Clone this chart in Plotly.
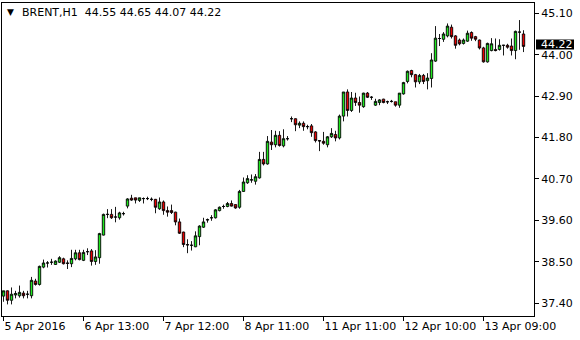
import plotly.graph_objects as go

symbol = "BRENT,H1"

opens = [37.59, 37.73, 37.48, 37.62, 37.60, 37.67, 37.64, 37.60, 37.99, 37.90,
         38.36, 38.47, 38.49, 38.43, 38.49, 38.58, 38.47, 38.45, 38.58, 38.74,
         38.54, 38.77, 38.79, 38.51, 38.61, 39.21, 39.76, 39.76, 39.69, 39.67,
         39.78, 39.98, 40.19, 40.20, 40.13, 40.18, 40.18, 40.16, 40.16, 39.91,
         40.09, 39.86, 39.86, 39.82, 39.56, 39.29, 38.96, 38.94, 38.90, 39.17,
         39.42, 39.61, 39.67, 39.67, 39.86, 39.97, 39.97, 40.05, 40.02, 39.95,
         40.37, 40.60, 40.67, 40.64, 40.73, 41.22, 41.10, 41.68, 41.61, 41.86,
         41.58, 41.77, 42.30, 42.30, 42.13, 42.18, 42.09, 42.11, 41.95, 41.72,
         41.70, 41.61, 41.82, 41.88, 41.79, 42.37, 43.01, 42.52, 42.85, 42.73,
         42.62, 42.98, 42.87, 42.66, 42.73, 42.82, 42.75, 42.76, 42.75, 42.66,
         42.96, 43.29, 43.58, 43.47, 43.28, 43.45, 43.31, 43.37, 43.83, 44.43,
         44.41, 44.50, 44.73, 44.50, 44.39, 44.30, 44.36, 44.59, 44.48, 44.39,
         44.18, 43.81, 44.11, 44.14, 44.14, 44.25, 44.25, 44.23, 44.11, 44.60,
         44.55]
highs = [37.73, 37.74, 37.82, 37.73, 37.87, 37.73, 37.73, 38.10, 38.05, 38.40,
         38.56, 38.52, 38.58, 38.54, 38.65, 38.61, 38.54, 38.82, 38.82, 38.82,
         38.82, 38.86, 38.84, 38.81, 39.27, 39.78, 39.90, 39.90, 39.96, 39.83,
         39.83, 40.19, 40.28, 40.20, 40.20, 40.21, 40.23, 40.21, 40.17, 40.21,
         40.13, 39.97, 40.02, 39.83, 39.65, 39.30, 39.10, 39.05, 39.31, 39.47,
         39.67, 39.65, 39.74, 39.90, 39.97, 40.02, 40.09, 40.13, 40.02, 40.41,
         40.74, 40.80, 40.82, 40.83, 41.42, 41.42, 41.84, 42.00, 41.98, 41.97,
         42.02, 41.84, 42.36, 42.31, 42.23, 42.23, 42.14, 42.16, 41.97, 41.72,
         41.95, 41.84, 42.05, 41.98, 42.41, 43.01, 43.08, 43.01, 42.99, 42.89,
         42.99, 43.01, 42.90, 42.83, 42.82, 42.83, 42.78, 42.80, 42.75, 42.98,
         43.28, 43.58, 43.60, 43.49, 43.49, 43.49, 43.51, 44.04, 44.76, 44.55,
         44.60, 44.83, 44.80, 44.52, 44.43, 44.43, 44.64, 44.62, 44.50, 44.40,
         44.21, 44.32, 44.44, 44.43, 44.41, 44.25, 44.29, 44.43, 44.64, 44.92,
         44.65]
lows = [37.44, 37.37, 37.37, 37.53, 37.55, 37.53, 37.53, 37.53, 37.87, 37.87,
        38.33, 38.35, 38.42, 38.42, 38.47, 38.43, 38.31, 38.36, 38.54, 38.54,
        38.52, 38.68, 38.40, 38.42, 38.45, 39.20, 39.66, 39.64, 39.55, 39.62,
        39.73, 39.92, 40.12, 40.05, 40.09, 40.05, 40.14, 40.11, 39.79, 39.88,
        39.75, 39.70, 39.77, 39.47, 39.24, 38.89, 38.73, 38.80, 38.89, 38.94,
        39.40, 39.54, 39.59, 39.65, 39.84, 39.91, 39.95, 39.97, 39.91, 39.91,
        40.36, 40.57, 40.60, 40.55, 40.71, 41.06, 41.08, 41.47, 41.54, 41.56,
        41.54, 41.72, 42.21, 41.97, 42.05, 41.98, 42.02, 41.82, 41.67, 41.44,
        41.61, 41.54, 41.79, 41.70, 41.75, 42.23, 42.36, 42.48, 42.64, 42.46,
        42.59, 42.85, 42.80, 42.64, 42.66, 42.71, 42.69, 42.73, 42.62, 42.59,
        42.94, 43.24, 43.40, 43.13, 43.22, 43.22, 43.08, 43.13, 43.81, 44.23,
        44.34, 44.46, 44.43, 44.16, 44.25, 44.27, 44.34, 44.37, 44.36, 44.14,
        43.79, 43.79, 44.09, 44.09, 44.11, 43.98, 44.16, 43.98, 43.88, 44.13,
        44.07]
closes = [37.73, 37.48, 37.64, 37.66, 37.69, 37.60, 37.64, 38.01, 37.90, 38.38,
          38.47, 38.47, 38.49, 38.52, 38.61, 38.45, 38.46, 38.59, 38.74, 38.56,
          38.75, 38.77, 38.51, 38.63, 39.25, 39.76, 39.76, 39.67, 39.69, 39.80,
          39.78, 40.17, 40.14, 40.14, 40.20, 40.18, 40.18, 40.16, 39.95, 40.09,
          39.86, 39.82, 39.81, 39.56, 39.26, 38.96, 38.95, 38.94, 39.19, 39.45,
          39.56, 39.62, 39.67, 39.88, 39.95, 39.97, 40.05, 39.98, 39.93, 40.37,
          40.62, 40.71, 40.68, 40.76, 41.22, 41.10, 41.70, 41.61, 41.86, 41.59,
          41.77, 41.77, 42.30, 42.14, 42.18, 42.09, 42.09, 41.93, 41.72, 41.71,
          41.65, 41.82, 41.91, 41.79, 42.37, 43.01, 42.52, 42.85, 42.73, 42.66,
          42.98, 42.87, 42.87, 42.76, 42.80, 42.73, 42.75, 42.76, 42.66, 42.98,
          43.26, 43.56, 43.47, 43.28, 43.45, 43.29, 43.38, 43.86, 44.44, 44.43,
          44.55, 44.76, 44.48, 44.25, 44.29, 44.39, 44.57, 44.44, 44.41, 44.18,
          43.81, 44.30, 44.29, 44.11, 44.25, 44.25, 44.20, 44.11, 44.62, 44.60,
          44.22]

bar_index = list(range(len(opens)))

x_tick_index = [0, 20, 40, 60, 80, 100, 120]
x_tick_text = ["5 Apr 2016", "6 Apr 13:00", "7 Apr 12:00", "8 Apr 11:00",
               "11 Apr 11:00", "12 Apr 10:00", "13 Apr 09:00"]
y_ticks = [37.40, 38.50, 39.60, 40.70, 41.80, 42.90, 44.00, 45.10]

Y_MIN, Y_MAX = 37.062, 45.373
X_MIN, X_MAX = -0.375, 132.625

PLOT_W = 532
PLOT_H = 313

fig = go.Figure(go.Candlestick(
    x=bar_index, open=opens, high=highs, low=lows, close=closes,
    increasing=dict(fillcolor="#1ee81e", line=dict(color="black", width=0.9)),
    decreasing=dict(fillcolor="#e80000", line=dict(color="black", width=0.9)),
    whiskerwidth=0, showlegend=False, hoverinfo="skip",
))

fig.update_layout(
    width=580, height=340,
    margin=dict(l=2, r=46, t=3, b=24, pad=0),
    paper_bgcolor="white", plot_bgcolor="white",
    boxgap=0.15,
    font=dict(family="DejaVu Sans", size=11, color="black"),
    showlegend=False,
)
fig.update_xaxes(
    range=[X_MIN, X_MAX], rangeslider_visible=False, automargin=False,
    showgrid=False, zeroline=False,
    showline=True, linecolor="black", linewidth=1, mirror=True,
    ticks="outside", ticklen=4, tickcolor="black", tickwidth=1,
    tickvals=x_tick_index, ticktext=x_tick_text, tickangle=0,
    ticklabelposition="outside right",
)
fig.update_yaxes(
    range=[Y_MIN, Y_MAX], side="right", automargin=False,
    showgrid=False, zeroline=False,
    showline=True, linecolor="black", linewidth=1, mirror=True,
    ticks="outside", ticklen=4, tickcolor="black", tickwidth=1,
    tickvals=y_ticks, ticktext=[f"{v:.2f}" for v in y_ticks],
)

# header
fig.add_annotation(text="▼", xref="paper", yref="paper", x=3 / PLOT_W, y=1 - 9 / PLOT_H,
                   xanchor="left", yanchor="middle", showarrow=False,
                   font=dict(size=9, color="black"))
header = symbol + "&nbsp;&nbsp;" + " ".join(f"{v:.2f}" for v in (opens[-1], highs[-1], lows[-1], closes[-1]))
fig.add_annotation(text=header, xref="paper", yref="paper", x=18 / PLOT_W, y=1 - 9 / PLOT_H,
                   xanchor="left", yanchor="middle", showarrow=False,
                   font=dict(size=11, color="black"))

# last price label (drawn slightly above the value line, like the terminal does)
last = closes[-1]
py = (last - Y_MIN) / (Y_MAX - Y_MIN) + 2 / PLOT_H
half = 5 / PLOT_H
fig.add_shape(type="rect", xref="paper", yref="paper",
              x0=1 + 2 / PLOT_W, x1=1 + 40 / PLOT_W, y0=py - half, y1=py + half,
              fillcolor="black", line=dict(width=0), layer="above")
fig.add_annotation(text=f"{last:.2f}", xref="paper", yref="paper", x=1 + 5 / PLOT_W, y=py,
                   xanchor="left", yanchor="middle", showarrow=False,
                   font=dict(size=11, color="white"))

fig.write_html("out.html")
